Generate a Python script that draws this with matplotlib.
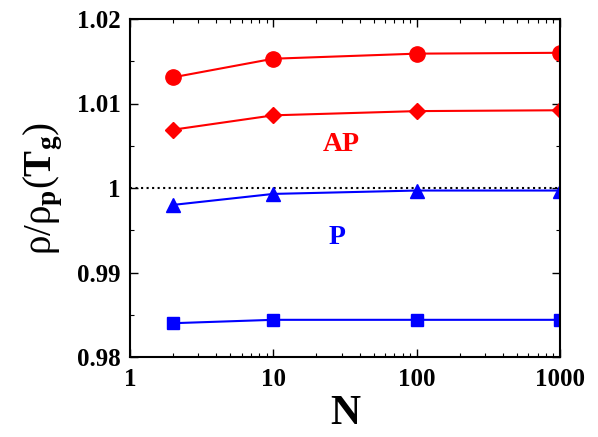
import matplotlib
matplotlib.use('Agg')
import matplotlib.pyplot as plt
from matplotlib.ticker import LogLocator, MultipleLocator, FixedFormatter, FixedLocator
import numpy as np

# dati
N = [2, 10, 100, 1000]
ap_circle = [1.0131, 1.0153, 1.0159, 1.0160]
ap_diamond = [1.0069, 1.0086, 1.0091, 1.0092]
p_triangle = [0.9980, 0.9993, 0.9997, 0.9997]
p_square = [0.9840, 0.9844, 0.9844, 0.9844]

y_ticks = [0.98, 0.99, 1.0, 1.01, 1.02]
y_tick_labels = ['0.98', '0.99', '1', '1.01', '1.02']
x_ticks = [1, 10, 100, 1000]
x_tick_labels = ['1', '10', '100', '1000']

plt.rcParams['font.family'] = ['Liberation Serif', 'DejaVu Serif']
plt.rcParams['mathtext.fontset'] = 'custom'
plt.rcParams['mathtext.rm'] = 'Liberation Serif:normal'
plt.rcParams['mathtext.bf'] = 'Liberation Serif:bold'
plt.rcParams['mathtext.it'] = 'Liberation Serif:italic'

fig = plt.figure(figsize=(5.98, 4.37), dpi=100)
ax = fig.add_axes([130/598, 1-357/437, 430/598, 338/437])

#-- serie
ax.plot([1, 1000], [1, 1], color='black', linestyle=':', linewidth=1.5)
ax.plot(N, ap_circle, color='red', marker='o', markersize=11, linewidth=1.5)
ax.plot(N, ap_diamond, color='red', marker='D', markersize=8, linewidth=1.5)
ax.plot(N, p_triangle, color='blue', marker='^', markersize=10, linewidth=1.5)
ax.plot(N, p_square, color='blue', marker='s', markersize=9, linewidth=1.5)
#--

ax.text(30, 1.0051, 'AP', color='red', fontsize=20, fontweight='bold', ha='center', va='center')
ax.text(28, 0.9942, 'P', color='blue', fontsize=20, fontweight='bold', ha='center', va='center')

#-- formattazione assi
ax.set_xscale('log')
ax.set_xlim(1, 1000)
ax.set_ylim(0.98, 1.02)
ax.xaxis.set_major_locator(FixedLocator(x_ticks))
ax.xaxis.set_major_formatter(FixedFormatter(x_tick_labels))
ax.xaxis.set_minor_locator(LogLocator(subs=np.arange(2, 10)))
ax.yaxis.set_major_locator(FixedLocator(y_ticks))
ax.yaxis.set_major_formatter(FixedFormatter(y_tick_labels))
ax.yaxis.set_minor_locator(MultipleLocator(0.005))
ax.tick_params(which='both', direction='in', top=True, right=True, labelsize=18)
ax.tick_params(which='major', length=6, width=1)
ax.tick_params(which='minor', length=3, width=0.8)
ax.tick_params(axis='x', pad=8)
ax.tick_params(axis='y', pad=7)
for lab in ax.get_xticklabels() + ax.get_yticklabels():
    lab.set_fontweight('bold')
for sp in ax.spines.values():
    sp.set_linewidth(1.5)

ax.set_xlabel('N', fontsize=30, fontweight='bold', labelpad=3)
ax.set_ylabel(r'$\mathrm{\rho/\rho}_{\mathbf{p}}\mathrm{(}\mathbf{T}_{\mathbf{g}}\mathrm{)}$',
              fontsize=28, labelpad=8)
#--

fig.savefig('out.png', dpi=100)
